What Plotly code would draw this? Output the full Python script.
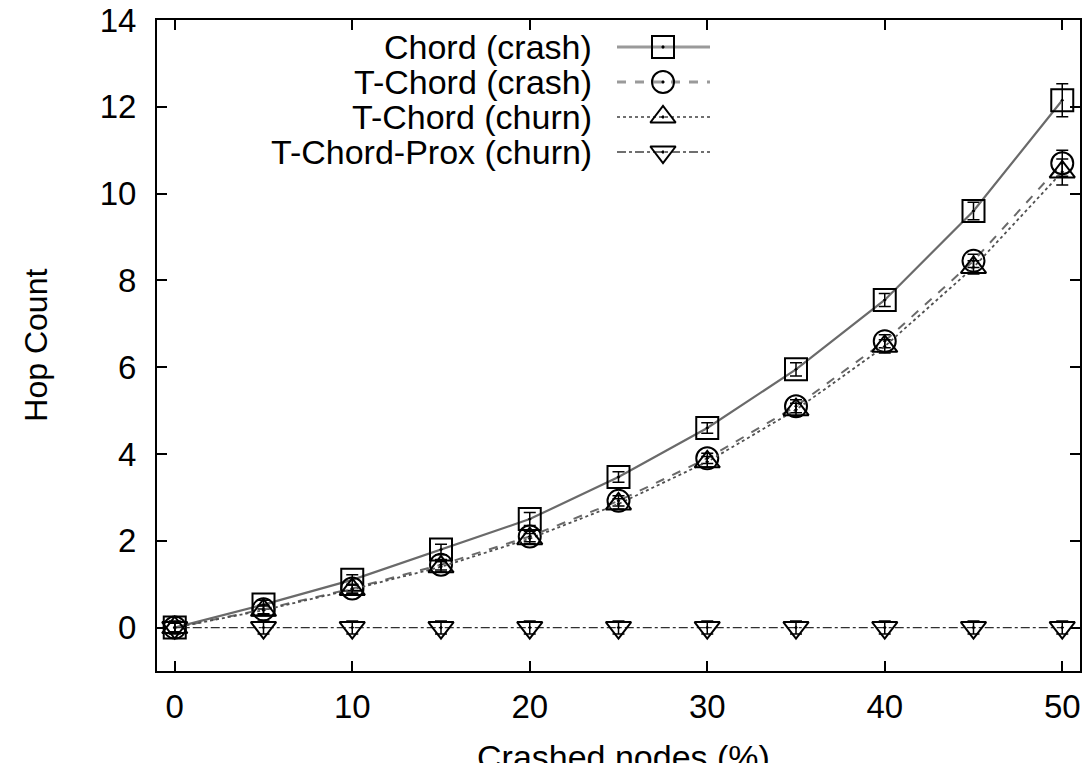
import plotly.graph_objects as go

# Percentage of crashed nodes
crashed = [0, 5, 10, 15, 20, 25, 30, 35, 40, 45, 50]

# Mean hop count per series
chord_crash = [0.0, 0.53, 1.1, 1.8, 2.5, 3.47, 4.6, 5.95, 7.55, 9.6, 12.15]
tchord_crash = [0.0, 0.42, 0.9, 1.45, 2.1, 2.92, 3.9, 5.1, 6.6, 8.45, 10.7]
tchord_churn = [0.0, 0.4, 0.88, 1.4, 2.05, 2.85, 3.82, 5.02, 6.48, 8.3, 10.5]
tchord_prox_churn = [0.0, 0.0, 0.0, 0.0, 0.0, 0.0, 0.0, 0.0, 0.0, 0.0, 0.0]

# Error bar half-widths
chord_crash_err = [0.1, 0.1, 0.12, 0.12, 0.15, 0.12, 0.12, 0.15, 0.15, 0.2, 0.38]
tchord_crash_err = [0.1, 0.1, 0.1, 0.12, 0.12, 0.12, 0.12, 0.15, 0.15, 0.15, 0.3]
tchord_churn_err = [0.1, 0.1, 0.1, 0.12, 0.12, 0.12, 0.12, 0.15, 0.15, 0.15, 0.3]
tchord_prox_err = [0.15] * 11

labels = ["Chord (crash)", "T-Chord (crash)", "T-Chord (churn)", "T-Chord-Prox (churn)"]
y_ticks = [0, 2, 4, 6, 8, 10, 12, 14]
x_ticks = [0, 10, 20, 30, 40, 50]

FONT = "Liberation Sans, Arial, Helvetica, sans-serif"
series = [
    (chord_crash, chord_crash_err, "solid", "#6a6a6a", 2.2, "square-open-dot"),
    (tchord_crash, tchord_crash_err, "dash", "#6a6a6a", 2.0, "circle-open-dot"),
    (tchord_churn, tchord_churn_err, "dot", "#505050", 1.8, "triangle-up-open-dot"),
    (tchord_prox_churn, tchord_prox_err, "dashdot", "#303030", 1.4, "triangle-down-open-dot"),
]

fig = go.Figure()
for (vals, err, dash, col, w, sym), name in zip(series, labels):
    fig.add_trace(go.Scatter(
        x=crashed, y=vals, mode="lines+markers", name=name,
        line=dict(color=col, width=w, dash=dash),
        marker=dict(symbol=sym, size=22, color="black", line=dict(width=2, color="black")),
        error_y=dict(type="data", array=err, visible=True, color="black", thickness=1.5, width=6),
        showlegend=False,
    ))

# Key drawn in the upper left, text right-aligned with the line sample to its right
key_rows = [47, 82, 117, 152]
for (vals, err, dash, col, w, sym), name, ry in zip(series, labels, key_rows):
    fig.add_trace(go.Scatter(
        x=[617, 710], y=[ry, ry], mode="lines", xaxis="x2", yaxis="y2",
        line=dict(color="#9a9a9a" if dash in ("solid", "dash") else "#404040",
                  width=3 if dash in ("solid", "dash") else 1.6, dash=dash),
        showlegend=False, hoverinfo="skip",
    ))
    fig.add_trace(go.Scatter(
        x=[663], y=[ry], mode="markers", xaxis="x2", yaxis="y2",
        marker=dict(symbol=sym, size=22, color="black", line=dict(width=2, color="black")),
        showlegend=False, hoverinfo="skip",
    ))
    fig.add_annotation(
        x=594, y=ry, xref="x2", yref="y2", text=name, showarrow=False,
        xanchor="right", yanchor="middle", font=dict(family=FONT, size=34, color="black"),
    )

axis_common = dict(
    showline=True, linecolor="black", linewidth=2, mirror="allticks",
    ticks="inside", ticklen=10, tickwidth=1.5, tickcolor="black",
    showgrid=False, zeroline=False, automargin=False,
    tickfont=dict(family=FONT, size=33, color="black"),
)

fig.update_layout(
    width=1091, height=763,
    margin=dict(l=157, r=11, t=20, b=92),
    plot_bgcolor="white", paper_bgcolor="white",
    xaxis=dict(range=[-1, 51], tickvals=x_ticks, ticktext=[str(v) for v in x_ticks],
               ticklabelstandoff=5, **axis_common),
    yaxis=dict(range=[-1, 14], tickvals=y_ticks, ticktext=[str(v) for v in y_ticks],
               ticklabelstandoff=12, **axis_common),
    xaxis2=dict(range=[157, 1080], overlaying="x", visible=False, fixedrange=True),
    yaxis2=dict(range=[671, 20], overlaying="y", visible=False, fixedrange=True),
    showlegend=False,
)

fig.add_annotation(
    text="Hop Count", xref="paper", yref="paper", x=-0.132, y=0.5, textangle=-90,
    showarrow=False, xanchor="center", yanchor="middle",
    font=dict(family=FONT, size=32, color="black"),
)
fig.add_annotation(
    text="Crashed nodes (%)", xref="paper", yref="paper", x=0.505, y=-0.1,
    showarrow=False, xanchor="center", yanchor="top",
    font=dict(family=FONT, size=34, color="black"),
)

fig.write_html("out.html")
